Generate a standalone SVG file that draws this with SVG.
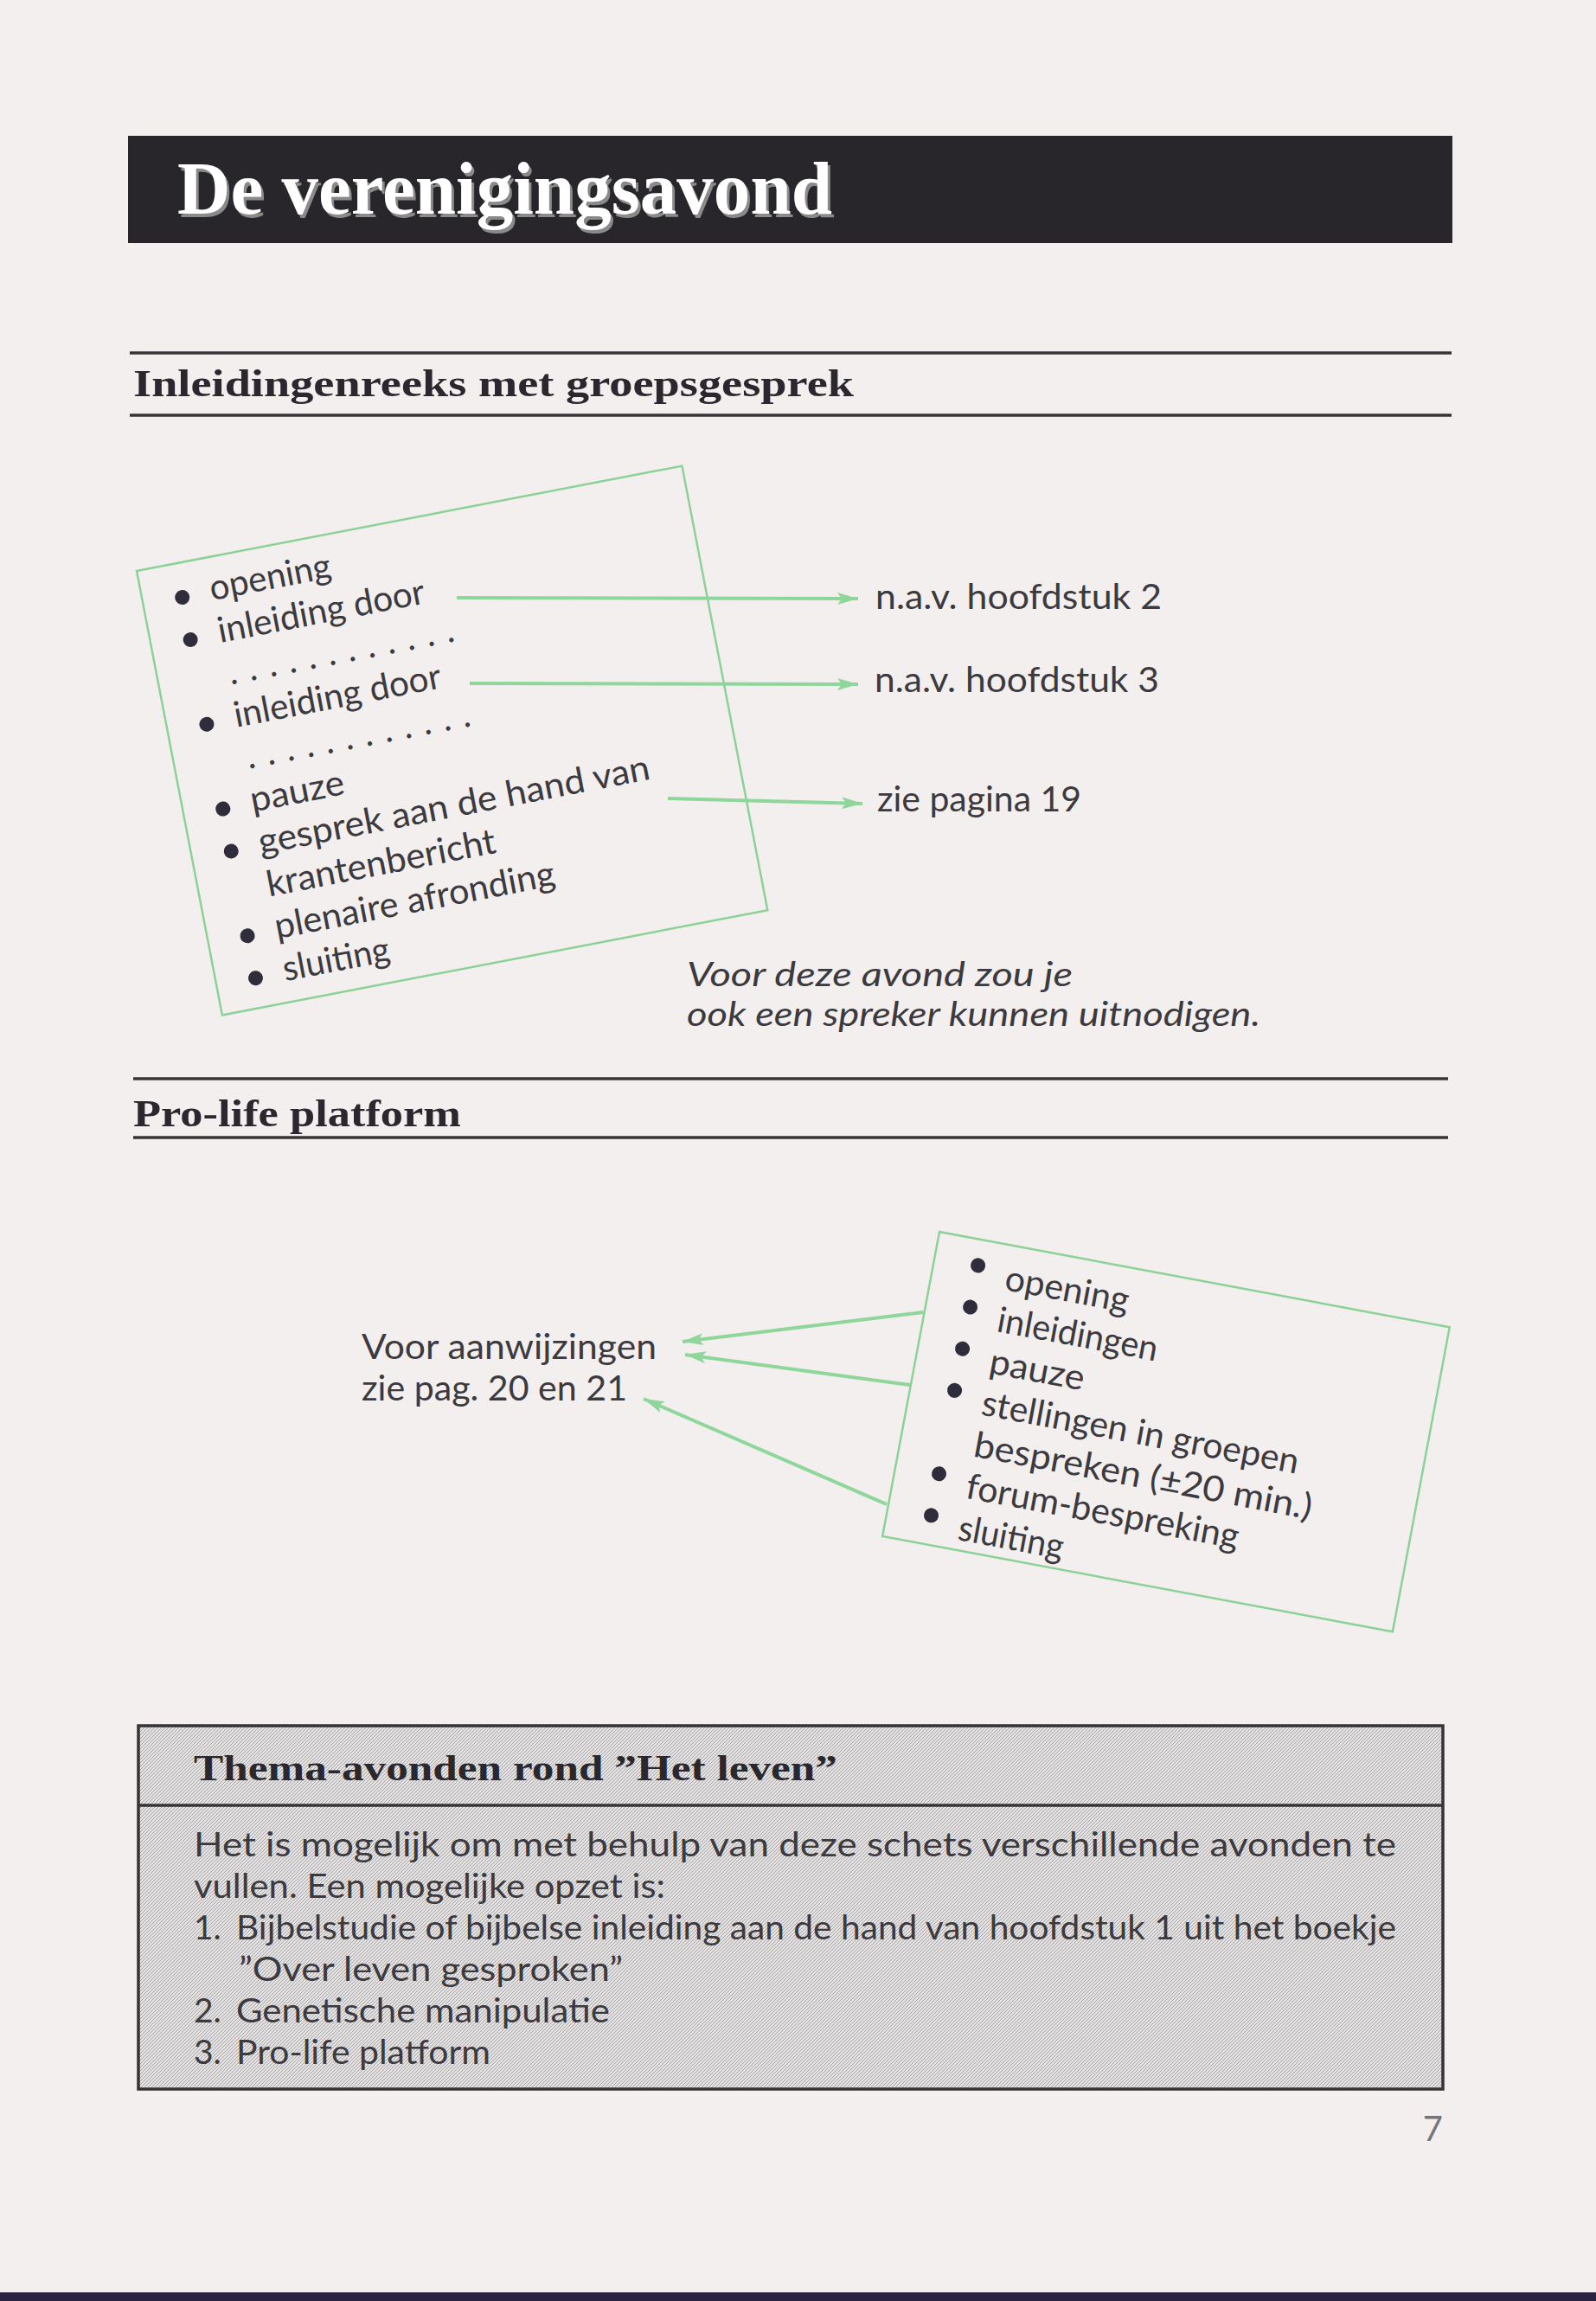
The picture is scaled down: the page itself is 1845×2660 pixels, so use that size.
<svg xmlns="http://www.w3.org/2000/svg" width="1845" height="2660" viewBox="0 0 1845 2660">
<defs>
<style>
.bg{fill:#f3efee}
.rule{stroke:#363437;stroke-width:3.5;fill:none}
.head{font-family:"Liberation Serif","Times New Roman",serif;font-weight:bold;fill:#2a282e}
.txt{font-family:Lato,"Open Sans","DejaVu Sans",sans-serif;font-weight:400;fill:#3c3a3e}
.it{font-style:italic}
.box{fill:none;stroke:#8cd296;stroke-width:2.5}
.bul{fill:#2f2d3b}
.arr{stroke:#8fd69b;stroke-width:4;fill:none;marker-end:url(#ah)}
</style>
<marker id="ah" markerUnits="userSpaceOnUse" markerWidth="24" markerHeight="14" refX="24" refY="7" orient="auto">
<path d="M0,0 L24,7 L0,14 L5,7 z" fill="#8fd69b"/>
</marker>
<pattern id="hatch" patternUnits="userSpaceOnUse" width="4" height="4">
<rect width="4" height="4" fill="#e2e0e0"/>
<path d="M-1,1 L1,-1 M0,4 L4,0 M3,5 L5,3" stroke="#a9a7a8" stroke-width="1"/>
</pattern>
</defs>
<rect class="bg" x="0" y="0" width="1845" height="2660"/>
<rect x="0" y="2650" width="1845" height="10" fill="#2b2342"/>

<g id="title">
<rect x="148" y="157" width="1531" height="124" fill="#28262b"/>
<text x="208" y="251" class="head" font-size="86" style="fill:#8a8a8a" textLength="757" lengthAdjust="spacingAndGlyphs">De verenigingsavond</text>
<text x="205" y="247" class="head" font-size="86" style="fill:#ffffff" textLength="757" lengthAdjust="spacingAndGlyphs">De verenigingsavond</text>
</g>

<g id="section1">
<line class="rule" x1="150" y1="408" x2="1678" y2="408"/>
<text x="154" y="458" class="head" font-size="44" textLength="833" lengthAdjust="spacingAndGlyphs">Inleidingenreeks met groepsgesprek</text>
<line class="rule" x1="150" y1="480" x2="1678" y2="480"/>
</g>

<g id="box1" transform="translate(158,660) rotate(-10.9)">
<rect class="box" x="0" y="0" width="642" height="523"/>
<circle class="bul" cx="46" cy="40" r="8.5"/>
<text class="txt" font-size="41" x="79" y="50" textLength="142" lengthAdjust="spacingAndGlyphs">opening</text>
<circle class="bul" cx="46" cy="89.8" r="8.5"/>
<text class="txt" font-size="41" x="79" y="99.8" textLength="243" lengthAdjust="spacingAndGlyphs">inleiding door</text>
<text class="txt" font-size="41" x="82" y="149.6" textLength="265" lengthAdjust="spacing">. . . . . . . . . . . .</text>
<circle class="bul" cx="46" cy="189.4" r="8.5"/>
<text class="txt" font-size="41" x="79" y="199.4" textLength="243" lengthAdjust="spacingAndGlyphs">inleiding door</text>
<text class="txt" font-size="41" x="84" y="249.2" textLength="263" lengthAdjust="spacing">. . . . . . . . . . . .</text>
<circle class="bul" cx="46" cy="289" r="8.5"/>
<text class="txt" font-size="41" x="79" y="299" textLength="110" lengthAdjust="spacingAndGlyphs">pauze</text>
<circle class="bul" cx="46" cy="338.8" r="8.5"/>
<text class="txt" font-size="41" x="79" y="348.8" textLength="460" lengthAdjust="spacingAndGlyphs">gesprek aan de hand van</text>
<text class="txt" font-size="41" x="79" y="398.6" textLength="269" lengthAdjust="spacingAndGlyphs">krantenbericht</text>
<circle class="bul" cx="46" cy="438.4" r="8.5"/>
<text class="txt" font-size="41" x="79" y="448.4" textLength="329" lengthAdjust="spacingAndGlyphs">plenaire afronding</text>
<circle class="bul" cx="46" cy="488.2" r="8.5"/>
<text class="txt" font-size="41" x="79" y="498.2" textLength="125" lengthAdjust="spacingAndGlyphs">sluiting</text>
</g>

<g id="label-h2"><text class="txt" font-size="40" x="1012" y="704" textLength="331" lengthAdjust="spacingAndGlyphs">n.a.v. hoofdstuk 2</text></g>
<g id="label-h3"><text class="txt" font-size="40" x="1011" y="800" textLength="329" lengthAdjust="spacingAndGlyphs">n.a.v. hoofdstuk 3</text></g>
<g id="label-p19"><text class="txt" font-size="40" x="1014" y="938" textLength="236" lengthAdjust="spacingAndGlyphs">zie pagina 19</text></g>

<g id="note">
<text class="txt it" font-size="38" x="794" y="1140" textLength="446" lengthAdjust="spacingAndGlyphs">Voor deze avond zou je</text>
<text class="txt it" font-size="38" x="794" y="1186" textLength="663" lengthAdjust="spacingAndGlyphs">ook een spreker kunnen uitnodigen.</text>
</g>

<g id="section2">
<line class="rule" x1="154" y1="1247" x2="1674" y2="1247"/>
<text x="154" y="1302" class="head" font-size="44" textLength="379" lengthAdjust="spacingAndGlyphs">Pro-life platform</text>
<line class="rule" x1="154" y1="1315" x2="1674" y2="1315"/>
</g>

<g id="label-aanw">
<text class="txt" font-size="40" x="418" y="1571" textLength="341" lengthAdjust="spacingAndGlyphs">Voor aanwijzingen</text>
<text class="txt" font-size="40" x="418" y="1619" textLength="307" lengthAdjust="spacingAndGlyphs">zie pag. 20 en 21</text>
</g>

<g id="box2" transform="translate(1086,1424) rotate(10.6)">
<rect class="box" x="0" y="0" width="600" height="358"/>
<circle class="bul" cx="51" cy="30" r="8.5"/>
<text class="txt" font-size="41" x="85" y="52" textLength="145" lengthAdjust="spacingAndGlyphs">opening</text>
<circle class="bul" cx="51" cy="79" r="8.5"/>
<text class="txt" font-size="41" x="85" y="101" textLength="188" lengthAdjust="spacingAndGlyphs">inleidingen</text>
<circle class="bul" cx="51" cy="128" r="8.5"/>
<text class="txt" font-size="41" x="85" y="150" textLength="111" lengthAdjust="spacingAndGlyphs">pauze</text>
<circle class="bul" cx="51" cy="177" r="8.5"/>
<text class="txt" font-size="41" x="85" y="199" textLength="372" lengthAdjust="spacingAndGlyphs">stellingen in groepen</text>
<text class="txt" font-size="41" x="85" y="248" textLength="397" lengthAdjust="spacingAndGlyphs">bespreken (±20 min.)</text>
<circle class="bul" cx="51" cy="275" r="8.5"/>
<text class="txt" font-size="41" x="85" y="297" textLength="320" lengthAdjust="spacingAndGlyphs">forum-bespreking</text>
<circle class="bul" cx="51" cy="324" r="8.5"/>
<text class="txt" font-size="41" x="85" y="346" textLength="123" lengthAdjust="spacingAndGlyphs">sluiting</text>
</g>

<g id="connectors">
<line class="arr" x1="528" y1="691" x2="992" y2="692"/>
<line class="arr" x1="543" y1="790" x2="992" y2="791"/>
<line class="arr" x1="772" y1="923" x2="997" y2="929"/>
<line class="arr" x1="1067" y1="1517" x2="789" y2="1551"/>
<line class="arr" x1="1052" y1="1601" x2="792" y2="1566"/>
<line class="arr" x1="1025" y1="1739" x2="744" y2="1617"/>
</g>

<g id="thema">
<rect x="160" y="1995" width="1508" height="420" fill="url(#hatch)" stroke="#353336" stroke-width="3.5"/>
<line class="rule" x1="160" y1="2087" x2="1668" y2="2087"/>
<text x="224" y="2058" class="head" font-size="42" textLength="744" lengthAdjust="spacingAndGlyphs">Thema-avonden rond ”Het leven”</text>
<text class="txt" font-size="39" x="224" y="2146" textLength="1390" lengthAdjust="spacingAndGlyphs">Het is mogelijk om met behulp van deze schets verschillende avonden te</text>
<text class="txt" font-size="39" x="224" y="2194" textLength="545" lengthAdjust="spacingAndGlyphs">vullen. Een mogelijke opzet is:</text>
<text class="txt" font-size="39" x="224" y="2242">1.</text>
<text class="txt" font-size="39" x="273" y="2242" textLength="1341" lengthAdjust="spacingAndGlyphs">Bijbelstudie of bijbelse inleiding aan de hand van hoofdstuk 1 uit het boekje</text>
<text class="txt" font-size="39" x="276" y="2290" textLength="444" lengthAdjust="spacingAndGlyphs">”Over leven gesproken”</text>
<text class="txt" font-size="39" x="224" y="2338">2.</text>
<text class="txt" font-size="39" x="273" y="2338" textLength="432" lengthAdjust="spacingAndGlyphs">Genetische manipulatie</text>
<text class="txt" font-size="39" x="224" y="2386">3.</text>
<text class="txt" font-size="39" x="273" y="2386" textLength="294" lengthAdjust="spacingAndGlyphs">Pro-life platform</text>
</g>

<g id="pagenum"><text class="txt" font-size="40" x="1668" y="2475" text-anchor="end" style="fill:#77757a">7</text></g>
</svg>
